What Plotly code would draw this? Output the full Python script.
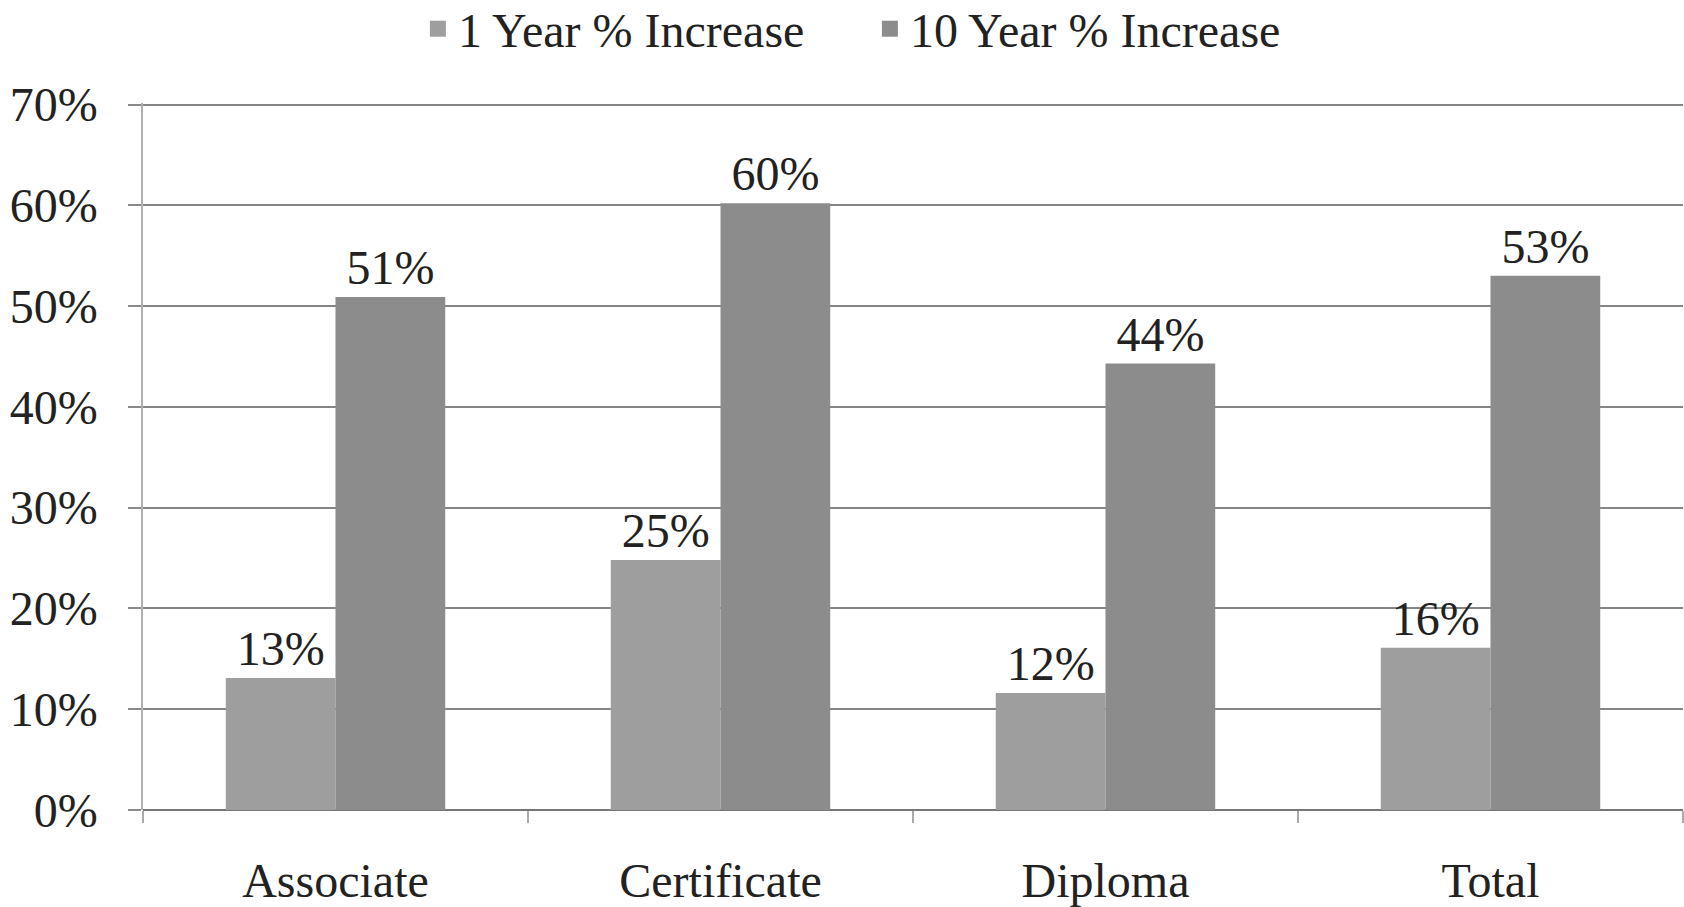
import plotly.graph_objects as go

categories = ["Associate", "Certificate", "Diploma", "Total"]
one_year = [0.131, 0.248, 0.116, 0.161]
ten_year = [0.509, 0.602, 0.443, 0.530]
series_names = ["1 Year % Increase", "10 Year % Increase"]
series_colors = ["#9e9e9e", "#8c8c8c"]
y_ticks = [0, 0.1, 0.2, 0.3, 0.4, 0.5, 0.6, 0.7]

FONT = "Liberation Serif, Times New Roman, serif"
TXT = "#222222"
FS = 48

fig = go.Figure()
for name, vals, col in zip(series_names, [one_year, ten_year], series_colors):
    fig.add_trace(go.Bar(
        x=categories, y=vals, name=name, showlegend=False, legendgroup=name,
        marker=dict(color=col, line=dict(width=0)),
        texttemplate="%{y:.0%}", textposition="outside", cliponaxis=False,
        textfont=dict(family=FONT, size=FS, color=TXT),
    ))
# legend entries with larger square swatches
for name, col in zip(series_names, series_colors):
    fig.add_trace(go.Scatter(
        x=[None], y=[None], mode="markers", name=name, legendgroup=name,
        marker=dict(symbol="square", size=16, color=col), showlegend=True,
    ))

fig.update_layout(
    width=1684, height=907,
    margin=dict(l=143, r=1, t=103, b=97, autoexpand=False),
    paper_bgcolor="white", plot_bgcolor="white",
    font=dict(family=FONT, size=FS, color=TXT),
    barmode="group", bargap=0.43, bargroupgap=0,
    legend=dict(
        orientation="h", x=0.472, xanchor="center",
        yref="container", y=0.968, yanchor="middle",
        font=dict(family=FONT, size=FS, color=TXT),
        itemwidth=30, itemsizing="trace", traceorder="normal",
        entrywidth=407, entrywidthmode="pixels",
    ),
)
fig.update_yaxes(
    range=[0, 0.7015], tickvals=y_ticks, tickformat=".0%",
    showgrid=True, gridcolor="#858585", gridwidth=1.5,
    zeroline=True, zerolinecolor="#777777", zerolinewidth=2,
    showline=True, linecolor="#b0b0b0", linewidth=1.5,
    ticks="outside", ticklen=13, tickcolor="#8a8a8a", tickwidth=1.5,
    ticklabelstandoff=21,
    tickfont=dict(family=FONT, size=FS, color=TXT),
)
fig.update_xaxes(
    showline=False, ticks="outside", tickson="boundaries", ticklen=12,
    tickcolor="#aaaaaa", tickwidth=1.5, ticklabelstandoff=38,
    tickfont=dict(family=FONT, size=FS, color=TXT),
)

fig.write_html(
    "out.html",
    config={"displayModeBar": False},
    post_script="document.body.style.margin='0';document.body.style.overflow='hidden';",
)
